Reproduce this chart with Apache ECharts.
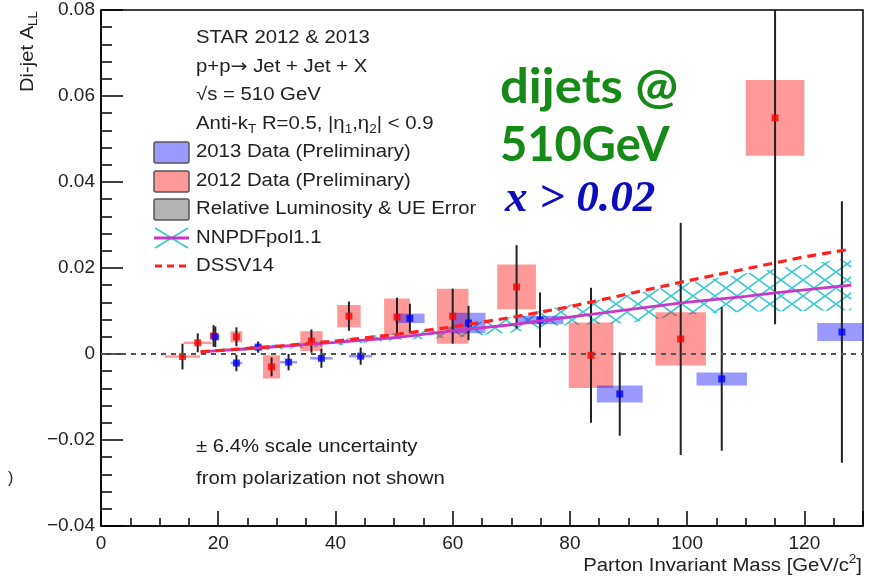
<!DOCTYPE html>
<html><head><meta charset="utf-8">
<script src="https://cdn.jsdelivr.net/npm/echarts@6/dist/echarts.min.js"></script>
<style>html,body{margin:0;padding:0;background:#fff}#c{width:869px;height:577px}</style>
</head><body><div id="c"></div><script>
// ---- Data ----
const mass2012 = [13.9, 16.5, 19.2, 23.1, 29.1, 35.9, 42.3, 50.5, 60.0, 70.9, 83.6, 98.9, 115.0];
const all2012  = [-0.0006, 0.0026, 0.0042, 0.0040, -0.0030, 0.0030, 0.0088, 0.0086, 0.0088, 0.0156, -0.0003, 0.0035, 0.0549];
const stat2012 = [0.0030, 0.0022, 0.0025, 0.0022, 0.0022, 0.0027, 0.0034, 0.0045, 0.0064, 0.0097, 0.0157, 0.0270, 0.0480];
const sysM2012 = [3.0, 2.4, 0.6, 1.0, 1.45, 1.9, 2.0, 2.2, 2.7, 3.3, 3.8, 4.3, 5.0];
const sysA2012 = [0.0003, 0.0003, 0.0005, 0.0013, 0.0027, 0.0023, 0.0026, 0.0043, 0.0064, 0.0052, 0.0076, 0.0062, 0.0088];

const mass2013 = [19.5, 23.1, 26.8, 32.0, 37.6, 44.3, 52.7, 62.7, 74.9, 88.5, 105.9, 126.4];
const all2013  = [0.0040, -0.0021, 0.0016, -0.0019, -0.0010, -0.0005, 0.0083, 0.0072, 0.0079, -0.0093, -0.0058, 0.0051];
const stat2013 = [0.0024, 0.0019, 0.0013, 0.0019, 0.0022, 0.0020, 0.0034, 0.0040, 0.0064, 0.0097, 0.0167, 0.0304];
const sysM2013 = [0.7, 1.0, 1.4, 1.45, 1.9, 2.0, 2.5, 2.9, 4.0, 3.9, 4.3, 4.2];
const sysA2013 = [0.0004, 0.0003, 0.0003, 0.0003, 0.0003, 0.0003, 0.0011, 0.0024, 0.0010, 0.0020, 0.0015, 0.0021];

const theoryMass = [17, 26.7, 40, 51, 60, 70, 78.2, 90, 99, 110, 115, 128];
const nnpdf      = [0.0005, 0.0014, 0.0027, 0.0039, 0.0054, 0.0068, 0.0083, 0.0103, 0.0119, 0.0134, 0.0142, 0.0160];
const dssvMass   = [17, 30, 40, 50, 60, 70, 80, 90, 100, 110, 120, 128];
const dssv       = [0.0005, 0.0018, 0.0030, 0.0045, 0.0063, 0.0085, 0.0110, 0.0140, 0.0170, 0.0198, 0.0226, 0.0244];
const bandMass   = [17, 30, 40, 51, 60, 70, 78, 90, 100, 110, 120, 128];
const nnLow      = [0.0003, 0.0010, 0.0020, 0.0033, 0.0038, 0.0050, 0.0066, 0.0072, 0.0092, 0.0098, 0.0100, 0.0102];
const nnHigh     = [0.0008, 0.0022, 0.0034, 0.0050, 0.0064, 0.0086, 0.0110, 0.0138, 0.0165, 0.0188, 0.0208, 0.0224];

const xMin = 0, xMax = 130, xStep = 20;
const yMin = -0.04, yMax = 0.08, yStep = 0.02;

// ---- helpers ----
const mctx = document.createElement('canvas').getContext('2d');
function tw(t, font){ mctx.font = font; return mctx.measureText(t).width; }
function textLine(x, y, segs, o){
  o = o || {};
  const size = o.size || 18, fam = o.family || '"Liberation Sans"', color = o.color || '#222', sx = o.scaleX || 1.13;
  let cx = 0; const ch = [];
  segs.forEach(s => {
    const t = Array.isArray(s) ? s[0] : s, k = Array.isArray(s) ? s[1] : 'n';
    const f = (Array.isArray(s) && s[2]) ? s[2] : fam;
    const fs = k === 'n' ? size : Math.round(size * 0.66);
    const dy = k === 'sub' ? size * 0.32 : (k === 'sup' ? -size * 0.36 : 0);
    const font = fs + 'px ' + f;
    ch.push({type:'text', x:cx, y:dy, style:{text:t, font:font, fill:color, align:'left', verticalAlign:'middle'}});
    cx += tw(t, font);
  });
  let gx = x;
  if (o.align === 'right') gx = x - cx * sx;
  return {type:'group', x:gx, y:y, scaleX:sx, rotation:o.rotation || 0, children:ch, silent:true};
}

// hatch pattern
const pc = document.createElement('canvas'); pc.width = 22; pc.height = 16;
const g = pc.getContext('2d');
g.strokeStyle = '#3fc9cf'; g.lineWidth = 1.7;
g.beginPath(); g.moveTo(0,0); g.lineTo(22,16); g.moveTo(22,0); g.lineTo(0,16); g.stroke();
const hatch = {image: pc, repeat: 'repeat'};

const chart = echarts.init(document.getElementById('c'), null, {renderer:'canvas'});

function boxSeries(m, a, dm, da, color){
  return {
    type:'custom', coordinateSystem:'cartesian2d', clip:true,
    encode:{x:0, y:1},
    data: m.map((v,i)=>[v, a[i], dm[i], da[i]]),
    renderItem: (p, api) => {
      const x = api.value(0), y = api.value(1), dx = api.value(2), dy = api.value(3);
      const p1 = api.coord([x - dx, y + dy]), p2 = api.coord([x + dx, y - dy]);
      return {type:'rect', shape:{x:p1[0], y:p1[1], width:p2[0]-p1[0], height:p2[1]-p1[1]}, style:{fill:color}};
    }
  };
}
function errSeries(m, a, e){
  return {
    type:'custom', coordinateSystem:'cartesian2d', clip:true,
    encode:{x:0, y:1},
    data: m.map((v,i)=>[v, a[i], e[i]]),
    renderItem: (p, api) => {
      const x = api.value(0), y = api.value(1), d = api.value(2);
      const p1 = api.coord([x, y + d]), p2 = api.coord([x, y - d]);
      return {type:'line', shape:{x1:p1[0], y1:p1[1], x2:p2[0], y2:p2[1]}, style:{stroke:'#222', lineWidth:2}};
    }
  };
}

const axisFont = {color:'#222', fontSize:19, fontFamily:'Liberation Sans'};
const graphics = [
  textLine(196, 38, ['STAR 2012 & 2013']),
  textLine(196, 67, ['p+p', ['\u2192', 'n', '"DejaVu Sans"'], ' Jet + Jet + X']),
  textLine(196, 95, ['\u221As = 510 GeV']),
  textLine(196, 124, ['Anti-k', ['T','sub'], ' R=0.5, |\u03B7', ['1','sub'], ',\u03B7', ['2','sub'], '| < 0.9']),
  {type:'rect', shape:{x:154, y:142, width:35, height:21, r:2}, style:{fill:'#9999ff', stroke:'#555', lineWidth:1.5}},
  {type:'rect', shape:{x:154, y:171, width:35, height:21, r:2}, style:{fill:'#ff9999', stroke:'#555', lineWidth:1.5}},
  {type:'rect', shape:{x:154, y:199, width:35, height:21, r:2}, style:{fill:'#b3b3b3', stroke:'#555', lineWidth:1.5}},
  {type:'line', shape:{x1:155, y1:228, x2:188, y2:248}, style:{stroke:'#3fc9cf', lineWidth:1.7}},
  {type:'line', shape:{x1:155, y1:248, x2:188, y2:228}, style:{stroke:'#3fc9cf', lineWidth:1.7}},
  {type:'line', shape:{x1:154, y1:238, x2:189, y2:238}, style:{stroke:'#c837c8', lineWidth:2.8}},
  {type:'line', shape:{x1:155, y1:266, x2:189, y2:266}, style:{stroke:'#ff2020', lineWidth:3, lineDash:[7,5]}},
  textLine(196, 152, ['2013 Data (Preliminary)']),
  textLine(196, 181, ['2012 Data (Preliminary)']),
  textLine(196, 209, ['Relative Luminosity & UE Error']),
  textLine(196, 238, ['NNPDFpol1.1']),
  textLine(196, 266, ['DSSV14']),
  textLine(196, 447, ['\u00B1 6.4% scale uncertainty']),
  textLine(196, 479, ['from polarization not shown']),
  textLine(862, 566, ['Parton Invariant Mass [GeV/c', ['2','sup'], ']'], {align:'right'}),
  textLine(28, 92, ['Di-jet A', ['LL','sub']], {rotation: Math.PI/2, scaleX:1.12}),
  {type:'text', x:8, y:479, style:{text:')', font:'16px "Liberation Sans"', fill:'#222', verticalAlign:'middle'}},
  {type:'text', x:500, y:88, scaleX:1.06, style:{text:'dijets @', font:'bold 48px Lato', fill:'#168a16', verticalAlign:'middle'}},
  {type:'text', x:500, y:146, scaleX:0.98, style:{text:'510GeV', font:'bold 48px Lato', fill:'#168a16', verticalAlign:'middle'}},
  {type:'text', x:505, y:200, scaleX:1.03, style:{text:'x > 0.02', font:'italic bold 44px "Liberation Serif"', fill:'#0d0dbf', verticalAlign:'middle'}}
];

chart.setOption({
  animation:false,
  backgroundColor:'#fff',
  grid:{left:101, right:6, top:10, bottom:51, show:true, borderColor:'#000', borderWidth:1.5, backgroundColor:'transparent'},
  xAxis:{
    type:'value', min:xMin, max:xMax, interval:xStep,
    axisLine:{onZero:false, lineStyle:{color:'#000', width:1.5}},
    axisTick:{inside:true, length:15, lineStyle:{color:'#000', width:1.5}},
    minorTick:{show:true, splitNumber:4, length:8, lineStyle:{color:'#000', width:1.5}},
    axisLabel:Object.assign({showMaxLabel:false, margin:8}, axisFont),
    splitLine:{show:false}
  },
  yAxis:{
    type:'value', min:yMin, max:yMax, interval:yStep,
    axisLine:{onZero:false, lineStyle:{color:'#000', width:1.5}},
    axisTick:{inside:true, length:22, lineStyle:{color:'#000', width:1.5}},
    minorTick:{show:true, splitNumber:5, length:11, lineStyle:{color:'#000', width:1.5}},
    axisLabel:Object.assign({margin:6, formatter:v => Math.abs(v) < 1e-9 ? '0' : v.toFixed(2).replace('-', '\u2212')}, axisFont),
    splitLine:{show:false}
  },
  series:[
    {
      name:'NNPDF band', type:'custom', coordinateSystem:'cartesian2d', clip:true,
      encode:{x:0, y:1},
      data:[[bandMass[0], nnLow[0]]],
      renderItem:(p, api) => {
        const pts = [];
        bandMass.forEach((m,i) => pts.push(api.coord([m, nnHigh[i]])));
        for (let i = bandMass.length - 1; i >= 0; i--) pts.push(api.coord([bandMass[i], nnLow[i]]));
        return {type:'polygon', shape:{points:pts}, style:{fill:hatch, stroke:null}};
      }
    },
    {name:'NNPDFpol1.1', type:'line', data:theoryMass.map((m,i)=>[m, nnpdf[i]]), showSymbol:false,
      lineStyle:{color:'#c837c8', width:2.8}},
    {name:'DSSV14', type:'line', data:dssvMass.map((m,i)=>[m, dssv[i]]), showSymbol:false,
      lineStyle:{color:'#ff2020', width:3.2, type:[9,6]}},
    {name:'zero', type:'line', data:[[xMin,0],[xMax,0]], showSymbol:false,
      lineStyle:{color:'#555', width:2, type:[5,5]}},
    Object.assign(boxSeries(mass2012, all2012, sysM2012, sysA2012, 'rgba(255,0,0,0.4)'), {name:'2012 Data (Preliminary)'}),
    Object.assign(boxSeries(mass2013, all2013, sysM2013, sysA2013, 'rgba(0,0,255,0.4)'), {name:'2013 Data (Preliminary)'}),
    errSeries(mass2012, all2012, stat2012),
    errSeries(mass2013, all2013, stat2013),
    {name:'2012 pts', type:'scatter', symbol:'rect', symbolSize:7, data:mass2012.map((m,i)=>[m, all2012[i]]), itemStyle:{color:'#ff0000'}},
    {name:'2013 pts', type:'scatter', symbol:'rect', symbolSize:7, data:mass2013.map((m,i)=>[m, all2013[i]]), itemStyle:{color:'#0000ff'}}
  ],
  graphic: graphics
});
</script></body></html>
